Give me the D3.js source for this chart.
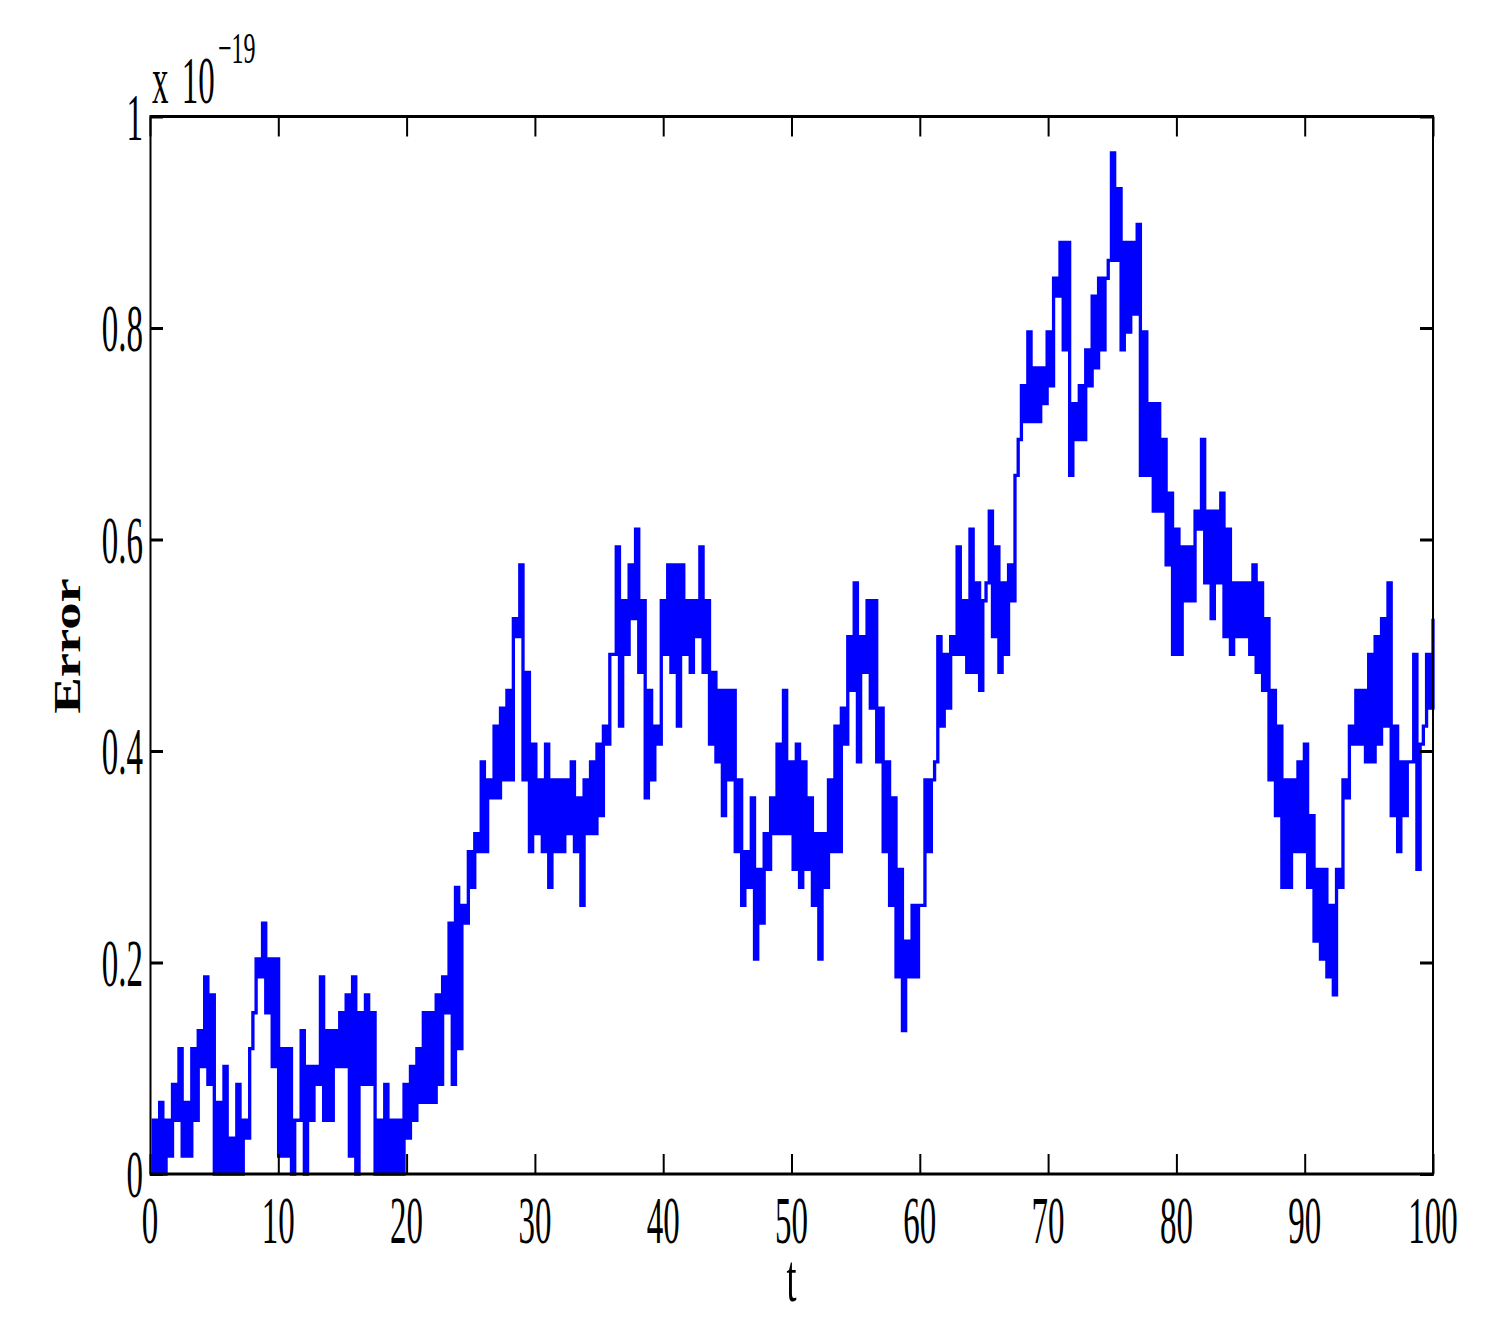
<!DOCTYPE html>
<html>
<head>
<meta charset="utf-8">
<script src="https://cdn.jsdelivr.net/npm/d3@7"></script>
<style>
  html, body { margin: 0; padding: 0; background: #ffffff; }
  svg { display: block; }
  text { font-family: "Liberation Serif", "Times New Roman", serif; fill: #000; }
</style>
</head>
<body>
<svg id="chart" width="1490" height="1337"></svg>
<script>
// ---------------- data ----------------
const xTicks = [0, 10, 20, 30, 40, 50, 60, 70, 80, 90, 100];
const xTickLabels = ["0", "10", "20", "30", "40", "50", "60", "70", "80", "90", "100"];
const yTicks = [0, 0.2, 0.4, 0.6, 0.8, 1];
const yTickLabels = ["0", "0.2", "0.4", "0.6", "0.8", "1"];
const xLabel = "t";
const yLabel = "Error";
const exponentBase = "x 10";
const exponentPower = "\u221219";

// The error is quantised: one step = 2^-69 = 0.01694 x 10^-19.
const levelStep = 0.016940658945086;
// For every half unit of t: lowest and highest level the trace reaches (in steps).
const lowLevel = [
  0,0,0,1,3,1,1,3,6,5,
  0,0,0,0,0,2,9,11,9,6,
  1,1,0,3,0,3,5,3,3,6,
  6,1,0,5,5,0,0,0,0,0,
  2,3,4,4,4,5,9,5,7,14,
  16,18,18,21,21,22,22,30,22,18,
  19,18,16,18,18,19,18,15,19,19,
  20,24,29,25,29,31,28,21,22,24,
  29,28,25,29,28,30,28,24,23,20,
  22,18,15,16,12,14,17,19,19,19,
  17,16,17,15,12,16,18,18,24,27,
  23,28,26,23,18,15,11,8,11,11,
  15,18,23,25,26,29,29,28,28,27,
  33,30,28,29,32,41,42,42,42,43,
  44,49,46,39,41,41,44,45,46,51,
  51,46,47,48,39,39,37,37,34,29,
  29,32,32,36,33,31,33,30,29,30,
  30,29,28,27,22,20,16,16,18,18,
  16,13,12,11,10,16,21,24,24,23,
  23,24,25,20,18,20,23,17,25,26
];
const highLevel = [
  3,4,3,5,7,4,7,8,11,10,
  4,6,2,5,3,7,12,14,12,12,
  7,7,3,8,6,6,11,8,8,9,
  10,11,9,10,9,3,5,3,3,5,
  6,7,9,9,10,11,14,16,15,18,
  19,23,22,25,26,27,31,34,28,24,
  22,24,22,22,22,23,21,22,23,24,
  25,29,35,32,34,36,32,27,25,32,
  34,34,34,32,32,35,32,28,27,27,
  27,22,18,21,17,19,21,24,27,23,
  24,23,21,19,19,22,25,26,30,33,
  30,32,32,26,23,21,17,13,15,15,
  22,22,30,29,30,35,32,36,33,32,
  37,35,33,34,39,44,47,45,45,47,
  50,52,52,43,44,46,49,50,50,57,
  55,52,52,53,47,43,43,41,38,36,
  35,35,37,41,37,37,38,36,33,33,
  33,34,33,31,27,25,22,22,23,24,
  20,17,17,15,17,22,25,27,27,29,
  30,31,33,25,23,23,29,24,29,31
];

// ---------------- layout ----------------
const svg = d3.select("#chart");
const X0 = 150, X1 = 1433, Y0 = 1174, Y1 = 116.5;
const x = d3.scaleLinear().domain([0, 100]).range([X0, X1]);
const y = d3.scaleLinear().domain([0, 1]).range([Y0, Y1]);

// trace: visit low then high level in each half-unit window
const levels = [];
lowLevel.forEach((lo, j) => { levels.push(lo); levels.push(highLevel[j]); });
const n = levels.length;
const tAt = d3.scaleLinear().domain([0, n - 1]).range([0, 100]);
const pts = levels.map((k, i) => ({ t: tAt(i), v: k * levelStep }));

const line = d3.line()
  .x(d => x(d.t))
  .y(d => y(d.v))
  .curve(d3.curveStepAfter);

svg.append("path")
  .datum(pts)
  .attr("d", line)
  .attr("fill", "none")
  .attr("stroke", "#0000ff")
  .attr("stroke-width", 3.3);

// ---------------- axes box & ticks ----------------
const box = svg.append("g");
box.append("line").attr("x1", X0).attr("x2", X1 + 1).attr("y1", Y0).attr("y2", Y0)
  .attr("stroke", "#000").attr("stroke-width", 3);
box.append("line").attr("x1", X0).attr("x2", X1 + 1).attr("y1", Y1).attr("y2", Y1)
  .attr("stroke", "#000").attr("stroke-width", 3);
box.append("line").attr("x1", X0 + 0.5).attr("x2", X0 + 0.5).attr("y1", Y1 - 1.5).attr("y2", Y0 + 1.5)
  .attr("stroke", "#000").attr("stroke-width", 2);
box.append("line").attr("x1", X1).attr("x2", X1).attr("y1", Y1 - 1.5).attr("y2", Y0 + 1.5)
  .attr("stroke", "#000").attr("stroke-width", 2);

function styleTicks(g, w) {
  g.select(".domain").remove();
  g.selectAll(".tick line").attr("stroke", "#000").attr("stroke-width", w);
  g.selectAll(".tick text").remove();
}
svg.append("g").attr("transform", `translate(0,${Y0})`)
  .call(d3.axisBottom(x).tickValues(xTicks).tickSizeInner(-20).tickSizeOuter(0))
  .call(g => styleTicks(g, 2));
svg.append("g").attr("transform", `translate(0,${Y1})`)
  .call(d3.axisTop(x).tickValues(xTicks).tickSizeInner(-20).tickSizeOuter(0))
  .call(g => styleTicks(g, 2));
svg.append("g").attr("transform", `translate(${X0},0)`)
  .call(d3.axisLeft(y).tickValues(yTicks).tickSizeInner(-13).tickSizeOuter(0))
  .call(g => styleTicks(g, 3));
svg.append("g").attr("transform", `translate(${X1},0)`)
  .call(d3.axisRight(y).tickValues(yTicks).tickSizeInner(-13).tickSizeOuter(0))
  .call(g => styleTicks(g, 3));

// ---------------- labels (tall, narrow serif as in the original) ----------------
const SY = 2.06;
svg.append("g").selectAll("text").data(xTicks).join("text")
  .attr("transform", d => `translate(${x(d)},1243) scale(1,${SY})`)
  .attr("text-anchor", "middle")
  .style("font-size", "33px")
  .text((d, i) => xTickLabels[i]);

svg.append("g").selectAll("text").data(yTicks).join("text")
  .attr("transform", d => `translate(143,${y(d) + 23}) scale(1,${SY})`)
  .attr("text-anchor", "end")
  .style("font-size", "33px")
  .text((d, i) => yTickLabels[i]);

svg.append("text")
  .attr("transform", `translate(${x(50)},1301) scale(1,1.85)`)
  .attr("text-anchor", "middle")
  .style("font-size", "36px")
  .text(xLabel);

svg.append("text")
  .attr("transform", `translate(80,646) rotate(-90) scale(1.44,1)`)
  .attr("text-anchor", "middle")
  .style("font-size", "38px")
  .style("font-weight", "bold")
  .text(yLabel);

const ex = svg.append("text")
  .attr("transform", `translate(152,103) scale(1,${SY})`)
  .style("font-size", "33px");
ex.append("tspan").text(exponentBase.slice(0, 2));
ex.append("tspan").attr("dx", 5).text(exponentBase.slice(2));

svg.append("text")
  .attr("transform", `translate(218,63) scale(1,1.85)`)
  .style("font-size", "24px")
  .text(exponentPower);
</script>
</body>
</html>
